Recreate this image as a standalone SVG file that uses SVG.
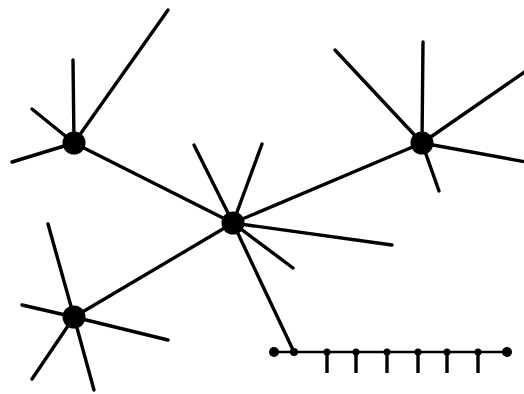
<svg xmlns="http://www.w3.org/2000/svg" width="524" height="394" viewBox="0 0 524 394">
<style>
.s{stroke:#000;stroke-width:3.4;stroke-linecap:round;fill:none}
.b{stroke:#000;stroke-width:2.6;fill:none}
.t{stroke:#000;stroke-width:3.4;fill:none}
.n{fill:#000}
</style>
<rect width="524" height="394" fill="#fff"/>
<g id="connectors">
<line class="s" x1="74" y1="143" x2="233" y2="223"/>
<line class="s" x1="422" y1="143" x2="233" y2="223"/>
<line class="s" x1="74" y1="317" x2="233" y2="223"/>
<line class="s" x1="233" y1="223" x2="294" y2="352"/>
</g>
<g id="nodeA">
<line class="s" x1="74" y1="143" x2="73" y2="60"/>
<line class="s" x1="74" y1="143" x2="168" y2="10"/>
<line class="s" x1="74" y1="143" x2="32" y2="109"/>
<line class="s" x1="74" y1="143" x2="12" y2="162"/>
<circle class="n" cx="74" cy="143" r="11.5"/>
</g>
<g id="nodeB">
<line class="s" x1="233" y1="223" x2="194" y2="145"/>
<line class="s" x1="233" y1="223" x2="262" y2="144"/>
<line class="s" x1="233" y1="223" x2="392" y2="245"/>
<line class="s" x1="233" y1="223" x2="293" y2="268"/>
<circle class="n" cx="233" cy="223" r="11.5"/>
</g>
<g id="nodeC">
<line class="s" x1="422" y1="143" x2="423" y2="42"/>
<line class="s" x1="422" y1="143" x2="335" y2="50"/>
<line class="s" x1="422" y1="143" x2="526" y2="71"/>
<line class="s" x1="422" y1="143" x2="526" y2="162"/>
<line class="s" x1="422" y1="143" x2="439" y2="191"/>
<circle class="n" cx="422" cy="143" r="11.5"/>
</g>
<g id="nodeD">
<line class="s" x1="74" y1="317" x2="48" y2="224"/>
<line class="s" x1="74" y1="317" x2="22" y2="305"/>
<line class="s" x1="74" y1="317" x2="168" y2="340"/>
<line class="s" x1="74" y1="317" x2="32" y2="379"/>
<line class="s" x1="74" y1="317" x2="94" y2="390"/>
<circle class="n" cx="74" cy="317" r="11.5"/>
</g>
<g id="bar">
<line class="b" x1="274" y1="352" x2="507" y2="352"/>
<g class="t">
<line x1="327" y1="352" x2="327" y2="373"/>
<line x1="356" y1="352" x2="356" y2="373"/>
<line x1="387" y1="352" x2="387" y2="373"/>
<line x1="418" y1="352" x2="418" y2="373"/>
<line x1="447" y1="352" x2="447" y2="373"/>
<line x1="478" y1="352" x2="478" y2="373"/>
</g>
<circle class="n" cx="274" cy="352" r="5"/>
<circle class="n" cx="507" cy="352" r="5"/>
<circle class="n" cx="294" cy="352" r="4"/>
<circle class="n" cx="327" cy="352" r="3.5"/>
<circle class="n" cx="356" cy="352" r="3.5"/>
<circle class="n" cx="387" cy="352" r="3.5"/>
<circle class="n" cx="418" cy="352" r="3.5"/>
<circle class="n" cx="447" cy="352" r="3.5"/>
<circle class="n" cx="478" cy="352" r="3.5"/>
</g>
</svg>
